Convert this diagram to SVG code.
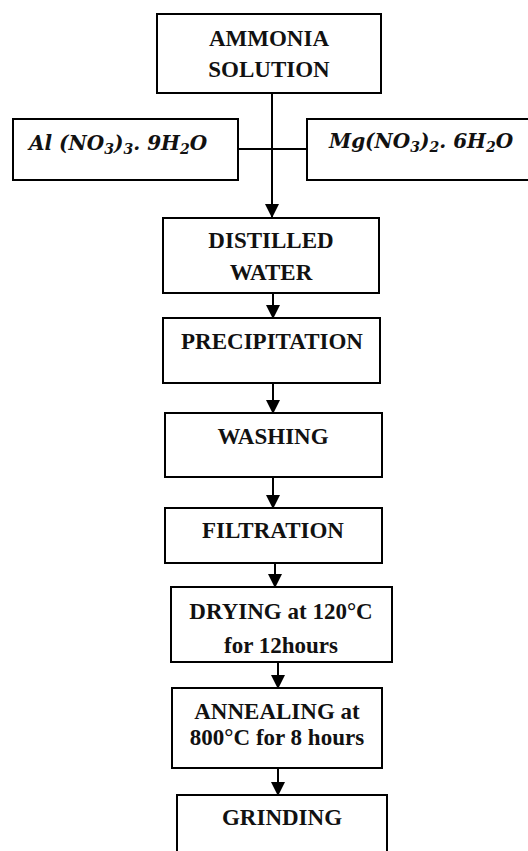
<svg xmlns="http://www.w3.org/2000/svg" width="528" height="851" viewBox="0 0 528 851">
<defs>
<style>
.box{fill:#fff;stroke:#000;stroke-width:2}
.t{font-family:'Liberation Serif','Tinos','Times New Roman','DejaVu Serif',serif;font-weight:bold;font-size:23px;fill:#111;text-anchor:middle}
.m{font-family:'DejaVu Serif','Liberation Serif',serif;font-weight:bold;font-style:italic;font-size:20px;fill:#111}
.s{font-size:14px}
.ln{stroke:#000;stroke-width:2;fill:none}
</style>
<marker id="ah" markerUnits="userSpaceOnUse" markerWidth="14" markerHeight="14" viewBox="0 0 14 14" refX="13" refY="7" orient="auto">
<path d="M0,0 L14,7 L0,14 Z" fill="#000"/>
</marker>
</defs>
<rect width="528" height="851" fill="#fff"/>
<g id="connectors">
<line class="ln" x1="272" y1="94" x2="272" y2="217" marker-end="url(#ah)"/>
<line class="ln" x1="238" y1="149" x2="307" y2="149"/>
<line class="ln" x1="273" y1="293" x2="273" y2="318" marker-end="url(#ah)"/>
<line class="ln" x1="273" y1="383" x2="273" y2="413" marker-end="url(#ah)"/>
<line class="ln" x1="273" y1="477" x2="273" y2="508" marker-end="url(#ah)"/>
<line class="ln" x1="275" y1="563" x2="275" y2="587" marker-end="url(#ah)"/>
<line class="ln" x1="278" y1="662" x2="278" y2="688" marker-end="url(#ah)"/>
<line class="ln" x1="278" y1="768" x2="278" y2="795" marker-end="url(#ah)"/>
</g>
<g id="ammonia">
<rect class="box" x="157" y="14" width="224" height="79"/>
<text class="t" x="269" y="46">AMMONIA</text>
<text class="t" x="269" y="77">SOLUTION</text>
</g>
<g id="al">
<rect class="box" x="13" y="119" width="225" height="61"/>
<text class="m" x="29" y="150">Al (NO<tspan class="s" dy="4">3</tspan><tspan dy="-4">)</tspan><tspan class="s" dy="4">3</tspan><tspan dy="-4">. 9H</tspan><tspan class="s" dy="4">2</tspan><tspan dy="-4">O</tspan></text>
</g>
<g id="mg">
<rect class="box" x="307" y="119" width="240" height="61"/>
<text class="m" x="329" y="148">Mg(NO<tspan class="s" dy="4">3</tspan><tspan dy="-4">)</tspan><tspan class="s" dy="4">2</tspan><tspan dy="-4">. 6H</tspan><tspan class="s" dy="4">2</tspan><tspan dy="-4">O</tspan></text>
</g>
<g id="distilled">
<rect class="box" x="163" y="218" width="216" height="75"/>
<text class="t" x="271" y="248">DISTILLED</text>
<text class="t" x="271" y="280">WATER</text>
</g>
<g id="precipitation">
<rect class="box" x="163" y="318" width="217" height="65"/>
<text class="t" x="272" y="349">PRECIPITATION</text>
</g>
<g id="washing">
<rect class="box" x="165" y="413" width="217" height="64"/>
<text class="t" x="273" y="444">WASHING</text>
</g>
<g id="filtration">
<rect class="box" x="165" y="508" width="217" height="55"/>
<text class="t" x="273" y="538">FILTRATION</text>
</g>
<g id="drying">
<rect class="box" x="171" y="587" width="221" height="75"/>
<text class="t" x="281" y="619">DRYING at 120°C</text>
<text class="t" x="281" y="653">for 12hours</text>
</g>
<g id="annealing">
<rect class="box" x="172" y="688" width="210" height="80"/>
<text class="t" x="277" y="719">ANNEALING at</text>
<text class="t" x="277" y="745">800°C for 8 hours</text>
</g>
<g id="grinding">
<rect class="box" x="177" y="795" width="210" height="70"/>
<text class="t" x="282" y="825">GRINDING</text>
</g>
</svg>
